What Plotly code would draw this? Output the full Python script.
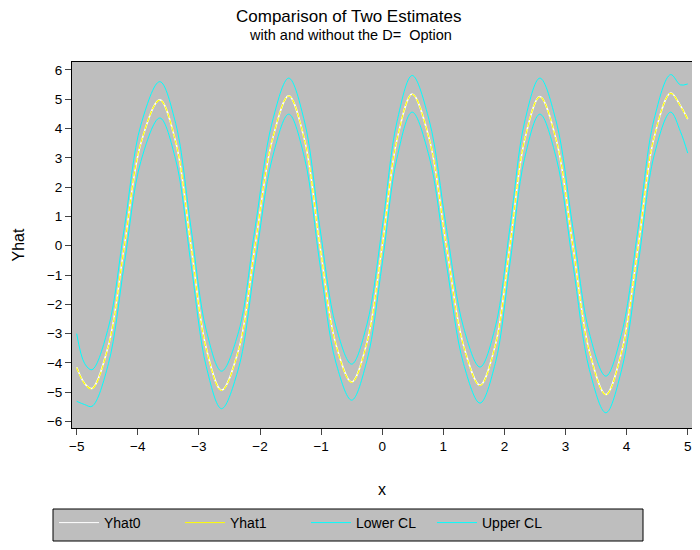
import plotly.graph_objects as go

# values
x = [-5.00, -4.87, -4.75, -4.48, -4.22, -3.95, -3.64, -3.38, -3.13, -2.88,
     -2.63, -2.35, -2.08, -1.80, -1.53, -1.27, -1.02, -0.76, -0.50, -0.25,
     0.00, 0.24, 0.49, 0.77, 1.05, 1.33, 1.60, 1.85, 2.09, 2.33,
     2.58, 2.85, 3.12, 3.39, 3.66, 3.92, 4.19, 4.45, 4.72, 4.88, 5.00]

yhat0 = [-4.15, -4.70, -4.87, -3.40, 0.00, 3.50, 4.98, 3.55, 0.00, -3.50,
         -4.93, -3.55, 0.00, 3.60, 5.12, 3.60, 0.00, -3.35, -4.65, -3.30,
         0.00, 3.60, 5.18, 3.65, 0.00, -3.40, -4.76, -3.40, 0.00, 3.60,
         5.09, 3.60, 0.00, -3.60, -5.08, -3.60, 0.00, 3.70, 5.21, 4.78, 4.32]

yhat1 = [-4.16, -4.71, -4.88, -3.41, 0.00, 3.51, 4.97, 3.54, 0.00, -3.51,
         -4.94, -3.56, 0.00, 3.61, 5.11, 3.59, 0.00, -3.36, -4.66, -3.31,
         0.00, 3.61, 5.17, 3.64, 0.00, -3.41, -4.77, -3.41, 0.00, 3.61,
         5.08, 3.59, 0.00, -3.61, -5.09, -3.61, 0.00, 3.71, 5.20, 4.77, 4.31]

lower = [-5.31, -5.42, -5.48, -4.02, -0.62, 2.88, 4.36, 2.93, -0.62, -4.12,
         -5.56, -4.17, -0.62, 2.98, 4.49, 2.98, -0.62, -3.97, -5.27, -3.92,
         -0.62, 2.98, 4.56, 3.03, -0.62, -4.02, -5.37, -4.02, -0.62, 2.98,
         4.49, 2.98, -0.62, -4.22, -5.70, -4.22, -0.62, 3.08, 4.56, 3.90, 3.16]

upper = [-3.00, -4.02, -4.23, -2.78, 0.62, 4.12, 5.60, 4.17, 0.62, -2.88,
         -4.28, -2.93, 0.62, 4.22, 5.72, 4.22, 0.62, -2.73, -4.04, -2.68,
         0.62, 4.22, 5.81, 4.27, 0.62, -2.78, -4.14, -2.78, 0.62, 4.22,
         5.72, 4.22, 0.62, -2.98, -4.45, -2.98, 0.62, 4.32, 5.84, 5.49, 5.52]

x_ticks = list(range(-5, 6))
y_ticks = list(range(-6, 7))

FONT = "Liberation Sans, Arial, sans-serif"
BG = "#bebebe"

# the page body has an 8px margin, so the figure is 8px smaller than the
# window; plot area on the page: x 72..692, y 62..428
def py(v):
    return (428 - v) / 366


def px_(v):
    return (v - 72) / 620


fig = go.Figure()
fig.add_scatter(x=x, y=lower, name="Lower CL", mode="lines", line_shape="spline",
                line=dict(color="#00ffff", width=1), showlegend=False)
fig.add_scatter(x=x, y=upper, name="Upper CL", mode="lines", line_shape="spline",
                line=dict(color="#00ffff", width=1), showlegend=False)
fig.add_scatter(x=x, y=yhat0, name="Yhat0", mode="lines", line_shape="spline",
                line=dict(color="#ffffff", width=1.5), showlegend=False)
fig.add_scatter(x=x, y=yhat1, name="Yhat1", mode="lines", line_shape="spline",
                line=dict(color="#ffff00", width=1.2, dash="5px,2px"), showlegend=False)

# legend entries (solid samples, like the reference)
for name, col in [("Yhat0", "#ffffff"), ("Yhat1", "#ffff00"),
                  ("Lower CL", "#00ffff"), ("Upper CL", "#00ffff")]:
    fig.add_scatter(x=[None], y=[None], name=name, mode="lines",
                    line=dict(color=col, width=1))

# legend frame
fig.add_shape(type="rect", xref="paper", yref="paper",
              x0=px_(53), x1=px_(643), y0=py(541), y1=py(509),
              fillcolor=BG, line=dict(color="black", width=1), layer="below")

fig.add_annotation(text="Comparison of Two Estimates", xref="paper", yref="paper",
                   x=px_(349), y=py(16), yanchor="middle", showarrow=False,
                   font=dict(size=17))
fig.add_annotation(text="with and without the D=  Option", xref="paper", yref="paper",
                   x=px_(350), y=py(35), yanchor="middle", showarrow=False,
                   font=dict(size=14.5))

fig.update_layout(
    width=692, height=542,
    margin=dict(l=64, r=8, t=54, b=122),
    paper_bgcolor="white", plot_bgcolor=BG,
    font=dict(family=FONT, size=13.5, color="black"),
    xaxis=dict(range=[-5.077, 5.07], tickvals=x_ticks, ticks="outside", ticklen=6,
               showgrid=False, zeroline=False, showline=True, linecolor="black",
               linewidth=1, mirror=True, automargin=False,
               title=dict(text="x", standoff=30)),
    yaxis=dict(range=[-6.22, 6.27], tickvals=y_ticks, ticks="outside", ticklen=6,
               showgrid=False, zeroline=False, showline=True, linecolor="black",
               linewidth=1, mirror=True, automargin=False,
               title=dict(text="Yhat", standoff=18)),
    legend=dict(orientation="h", x=px_(54), xanchor="left",
                y=py(507), yanchor="top", bgcolor="rgba(0,0,0,0)",
                entrywidth=71, font=dict(size=14), itemwidth=40),
)

fig.write_html("out.html")
